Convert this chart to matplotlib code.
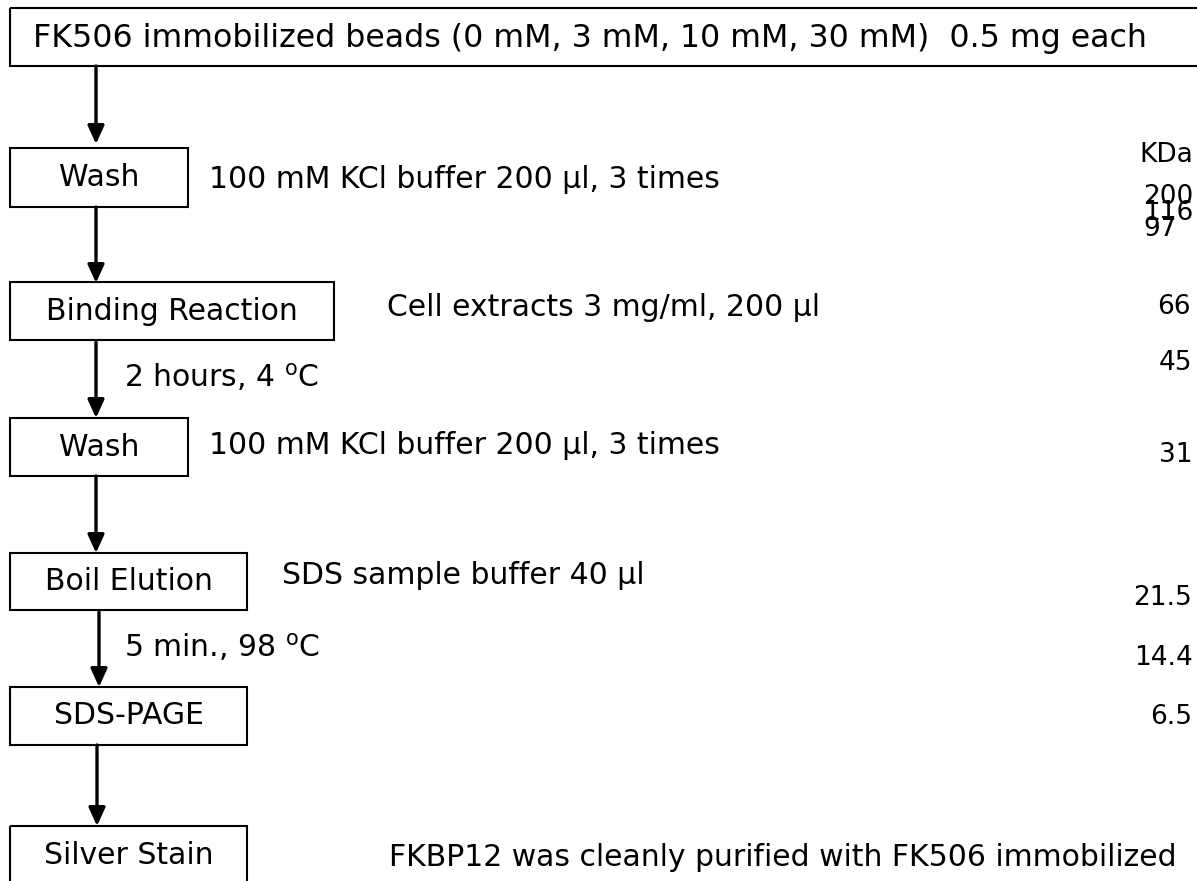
import matplotlib
matplotlib.use("Agg")
import matplotlib.pyplot as plt
from matplotlib.patches import Rectangle

plt.rcParams['font.family'] = ['DejaVu Sans']

# ---- content ----
title_text = "FK506 immobilized beads (0 mM, 3 mM, 10 mM, 30 mM)  0.5 mg each"
step_labels = ["Wash", "Binding Reaction", "Wash", "Boil Elution", "SDS-PAGE", "Silver Stain"]
side_notes = ["100 mM KCl buffer 200 µl, 3 times",
              "Cell extracts 3 mg/ml, 200 µl",
              "100 mM KCl buffer 200 µl, 3 times",
              "SDS sample buffer 40 µl"]
arrow_notes = [r"2 hours, 4 $^{\mathrm{o}}$C", r"5 min., 98 $^{\mathrm{o}}$C"]
marker_unit = "KDa"
marker_top_group = ["200", "116", "97"]
marker_labels = ["66", "45", "31", "21.5", "14.4", "6.5"]
footer_text = "FKBP12 was cleanly purified with FK506 immobilized"

# ---- layout (pixels, y downward) ----
W, H = 1197, 881
title_box = (10, 8, 1200, 66)             # x0, y0, x1, y1
step_boxes = [(10, 148, 188, 207),
              (10, 282, 334, 340),
              (10, 418, 188, 476),
              (10, 553, 247, 610),
              (10, 687, 247, 745),
              (10, 826, 247, 900)]
arrows = [(96, 66, 144), (96, 207, 283), (96, 342, 418),
          (96, 476, 553), (99, 612, 687), (97, 745, 826)]
side_pos = [(209, 180), (387, 307), (209, 445), (282, 576)]
arrow_note_pos = [(124, 377), (124, 647)]
unit_pos = (1139, 155)
top_group_pos = (1143, 213)
marker_pos = [(1157, 307), (1159, 363), (1159, 455), (1133, 598), (1134, 658), (1150, 717)]
footer_pos = (389, 858)

fig = plt.figure(figsize=(W / 100, H / 100), dpi=100)
ax = fig.add_axes([0, 0, 1, 1])
ax.set_xlim(0, W)
ax.set_ylim(H, 0)
ax.axis('off')

FS = 21.5
FS_TITLE = 22.8
FS_MARK = 19

def box(x0, y0, x1, y1):
    ax.add_patch(Rectangle((x0, y0), x1 - x0, y1 - y0, fill=False,
                           edgecolor='black', linewidth=1.5, clip_on=False))

# title box
box(*title_box)
ax.text(33, (title_box[1] + title_box[3]) / 2 + 1, title_text, fontsize=FS_TITLE,
        ha='left', va='center', color='black')

# step boxes
for (x0, y0, x1, y1), lab in zip(step_boxes, step_labels):
    box(x0, y0, x1, y1)
    yc = (y0 + y1) / 2 if y1 < H else y0 + 29
    ax.text((x0 + x1) / 2, yc, lab, fontsize=FS, ha='center', va='center')

# arrows
for x, ys, ye in arrows:
    ax.annotate("", xy=(x, ye), xytext=(x, ys),
                arrowprops=dict(arrowstyle='-|>,head_length=0.55,head_width=0.25',
                                lw=2.4, color='black', shrinkA=0, shrinkB=0,
                                mutation_scale=20))

for (x, y), t in zip(side_pos, side_notes):
    ax.text(x, y, t, fontsize=FS, ha='left', va='center')

for (x, y), t in zip(arrow_note_pos, arrow_notes):
    ax.text(x, y, t, fontsize=FS, ha='left', va='center')

# molecular weight markers
ax.text(unit_pos[0], unit_pos[1], marker_unit, fontsize=FS_MARK, ha='left', va='center')
ax.text(top_group_pos[0], top_group_pos[1], "\n".join(marker_top_group),
        fontsize=FS_MARK, ha='left', va='center', linespacing=0.48,
        multialignment='left')
for (x, y), t in zip(marker_pos, marker_labels):
    ax.text(x, y, t, fontsize=FS_MARK, ha='left', va='center')

ax.text(footer_pos[0], footer_pos[1], footer_text, fontsize=FS, ha='left', va='center')

fig.savefig("out.png", dpi=100)
